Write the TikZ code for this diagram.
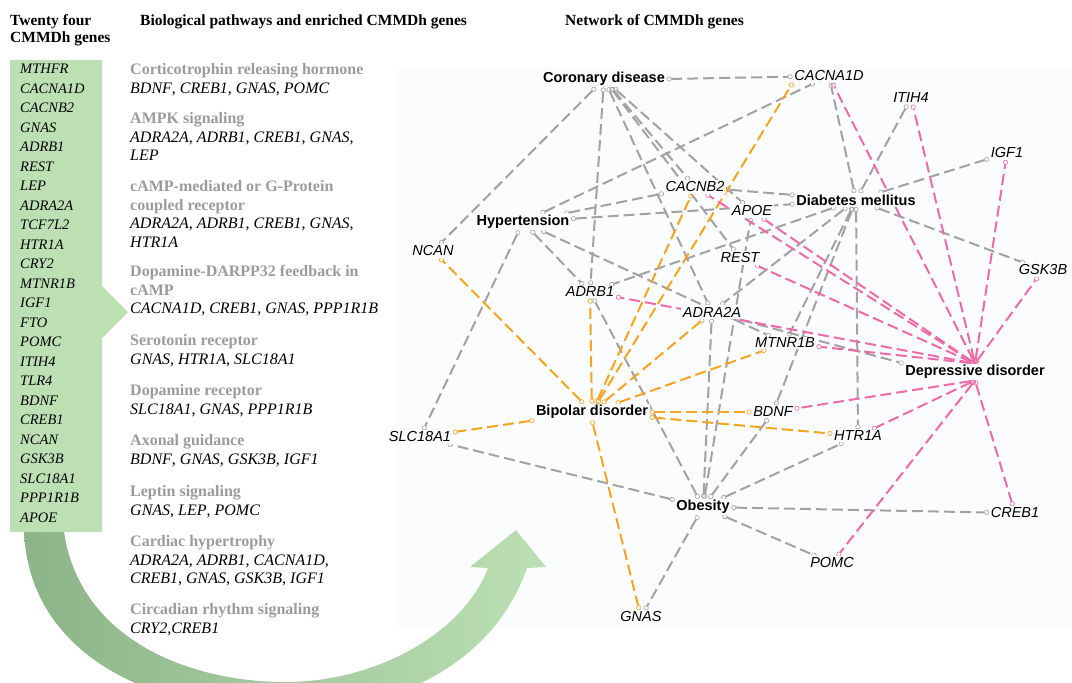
\documentclass[tikz,border=0pt]{standalone}
\usepackage{fontspec}
\setmainfont{Liberation Serif}
\newfontfamily\netfont{Liberation Sans}
\usetikzlibrary{arrows.meta}
\definecolor{boxgreen}{HTML}{BCDFB4}
\definecolor{darkgreen}{HTML}{8DB389}
\definecolor{netbg}{HTML}{FBFCFE}
\definecolor{pwgrey}{HTML}{9B9B9B}
\definecolor{lgrey}{HTML}{A2A2A2}
\definecolor{lorange}{HTML}{F6A41F}
\definecolor{lpink}{HTML}{EE6AA8}
\pgfdeclarelayer{netback}
\pgfdeclarelayer{netlines}
\pgfsetlayers{netback,netlines,main}
\newcommand{\gn}[1]{\textit{#1}}
\newcommand{\pwh}[1]{{\color{pwgrey}\bfseries #1}}
\tikzset{
  >={Circle[open,length=5pt,width=5pt,line width=0.6pt]},
  lnk/.style={line width=2pt, dash pattern=on 11pt off 5pt, <->},
  gl/.style={lnk, lgrey},
  ol/.style={lnk, lorange},
  pl/.style={lnk, lpink},
  dis/.style={font=\netfont\fontsize{14.5}{16}\selectfont\bfseries, fill=netbg, inner sep=1.5pt},
  gen/.style={font=\netfont\fontsize{14.5}{16}\selectfont\itshape, fill=netbg, inner sep=1.5pt},
  pw/.style={anchor=north west, inner sep=0pt, align=left, font=\fontsize{16}{18.5}\selectfont},
  hd/.style={anchor=north west, inner sep=0pt, align=left, font=\fontsize{15.5}{17.5}\selectfont\bfseries},
}

\begin{document}
\begin{tikzpicture}[x=1pt,y=-1pt]
		%%%%% START %%%%%
		\useasboundingbox (0,0) rectangle (1072,683);
		
		\begin{pgfonlayer}{netback}
		\fill[netbg] (396,68) rectangle (1072,627);
		\end{pgfonlayer}
		
		% curved arrow from the gene box to the network
		\begin{scope}
		\clip (0,0) rectangle (1072,683);
		\shade[left color=darkgreen, right color=boxgreen] (24,532) .. controls (30,660) and (160,712) .. (285,712) .. controls (400,712) and (495,660) .. (527,568) -- (546,567) -- (516,530) -- (470,567) -- (488,568) .. controls (465,630) and (380,682) .. (285,682) .. controls (190,682) and (80,640) .. (64,532) -- cycle;
		\end{scope}
		
		\fill[boxgreen] (10,60) -- (102,60) -- (102,286) -- (128,312) -- (102,338) -- (102,532) -- (10,532) -- cycle;
		
		\node[hd] (hgenes) at (10,14) {Twenty four\\CMMDh genes};
		\node[hd, anchor=base west] (hpath) at (140,25) {Biological pathways and enriched CMMDh genes};
		\node[hd, anchor=base west] (hnet) at (565,25) {Network of CMMDh genes};
		
		\node[anchor=north west, inner sep=0pt, align=left, font=\fontsize{14.5}{19.5}\selectfont\itshape] (genelist) at (20,64) {MTHFR\\CACNA1D\\CACNB2\\GNAS\\ADRB1\\REST\\LEP\\ADRA2A\\TCF7L2\\HTR1A\\CRY2\\MTNR1B\\IGF1\\FTO\\POMC\\ITIH4\\TLR4\\BDNF\\CREB1\\NCAN\\GSK3B\\SLC18A1\\PPP1R1B\\APOE};
		
		% pathways
		\node[pw] (pw1) at (130,63.5) {\pwh{Corticotrophin releasing hormone}\\\gn{BDNF}, \gn{CREB1}, \gn{GNAS}, \gn{POMC}};
		\node[pw] (pw2) at (130,112.5) {\pwh{AMPK signaling}\\\gn{ADRA2A}, \gn{ADRB1}, \gn{CREB1}, \gn{GNAS},\\\gn{LEP}};
		\node[pw] (pw3) at (130,180.5) {\pwh{cAMP-mediated or G-Protein}\\\pwh{coupled receptor}\\\gn{ADRA2A}, \gn{ADRB1}, \gn{CREB1}, \gn{GNAS},\\\gn{HTR1A}};
		\node[pw] (pw4) at (130,265.5) {\pwh{Dopamine-DARPP32 feedback in}\\\pwh{cAMP}\\\gn{CACNA1D}, \gn{CREB1}, \gn{GNAS}, \gn{PPP1R1B}};
		\node[pw] (pw5) at (130,334.5) {\pwh{Serotonin receptor}\\\gn{GNAS}, \gn{HTR1A}, \gn{SLC18A1}};
		\node[pw] (pw6) at (130,384.5) {\pwh{Dopamine receptor}\\\gn{SLC18A1}, \gn{GNAS}, \gn{PPP1R1B}};
		\node[pw] (pw7) at (130,434.5) {\pwh{Axonal guidance}\\\gn{BDNF}, \gn{GNAS}, \gn{GSK3B}, \gn{IGF1}};
		\node[pw] (pw8) at (130,485.5) {\pwh{Leptin signaling}\\\gn{GNAS}, \gn{LEP}, \gn{POMC}};
		\node[pw] (pw9) at (130,535.5) {\pwh{Cardiac hypertrophy}\\\gn{ADRA2A}, \gn{ADRB1}, \gn{CACNA1D},\\\gn{CREB1}, \gn{GNAS}, \gn{GSK3B}, \gn{IGF1}};
		\node[pw] (pw10) at (130,603.5) {\pwh{Circadian rhythm signaling}\\\gn{CRY2},\gn{CREB1}};
		
		% network: diseases
		\node[dis] (cor) at (604,79) {Coronary disease};
		\node[dis] (diab) at (856,200) {Diabetes mellitus};
		\node[dis] (hyp) at (523,222) {Hypertension};
		\node[dis] (dep) at (975,372) {Depressive disorder};
		\node[dis] (bip) at (592,412) {Bipolar disorder};
		\node[dis] (obes) at (703,507) {Obesity};
		
		% network: genes
		\node[gen] (cacna1d) at (829,76) {CACNA1D};
		\node[gen] (itih4) at (911,98) {ITIH4};
		\node[gen] (igf1) at (1007,153) {IGF1};
		\node[gen] (cacnb2) at (695,187) {CACNB2};
		\node[gen] (apoe) at (752,211) {APOE};
		\node[gen] (ncan) at (433,251) {NCAN};
		\node[gen] (rest) at (740,258) {REST};
		\node[gen] (gsk3b) at (1043,270) {GSK3B};
		\node[gen] (adrb1) at (590,292) {ADRB1};
		\node[gen] (adra2a) at (712,312) {ADRA2A};
		\node[gen] (mtnr1b) at (785,343) {MTNR1B};
		\node[gen] (bdnf) at (773,412) {BDNF};
		\node[gen] (slc18a1) at (420,437) {SLC18A1};
		\node[gen] (htr1a) at (858,436) {HTR1A};
		\node[gen] (creb1) at (1015,513) {CREB1};
		\node[gen] (pomc) at (832,563) {POMC};
		\node[gen] (gnas) at (641,617) {GNAS};
		
		\begin{pgfonlayer}{netlines}
		% grey links
		\draw[gl] (cor.east) -- (cacna1d);
		\draw[gl] (cor) -- (ncan);
		\draw[gl] (cor) -- (adrb1);
		\draw[gl] (cor) -- (cacnb2);
		\draw[gl] (cor) -- (apoe);
		\draw[gl] (cor) -- (rest);
		\draw[gl] (cor) -- (adra2a);
		\draw[gl] (hyp) -- (cacna1d);
		\draw[gl] (hyp) -- (cacnb2);
		\draw[gl] (hyp) -- (diab);
		\draw[gl] (hyp) -- (slc18a1);
		\draw[gl] (hyp) -- (adrb1);
		\draw[gl] (hyp) -- (mtnr1b);
		\draw[gl] (diab) -- (cacna1d);
		\draw[gl] (diab) -- (itih4);
		\draw[gl] (diab) -- (igf1);
		\draw[gl] (diab) -- (gsk3b);
		\draw[gl] (diab) -- (cacnb2);
		\draw[gl] (diab) -- (adrb1);
		\draw[gl] (diab) -- (adra2a);
		\draw[gl] (diab) -- (mtnr1b);
		\draw[gl] (diab) -- (bdnf);
		\draw[gl] (diab) -- (htr1a);
		\draw[gl] (obes) -- (slc18a1);
		\draw[gl] (obes) -- (adrb1);
		\draw[gl] (obes) -- (apoe);
		\draw[gl] (obes) -- (adra2a);
		\draw[gl] (obes) -- (bdnf);
		\draw[gl] (obes) -- (htr1a);
		\draw[gl] (obes) -- (creb1);
		\draw[gl] (obes) -- (pomc);
		\draw[gl] (obes) -- (gnas);
		\draw[gl] (adra2a) -- (dep.north west);
		% orange links
		\draw[ol] (bip) -- (ncan);
		\draw[ol] (bip) -- (adrb1);
		\draw[ol] (bip) -- (cacna1d.south west);
		\draw[ol] (bip) -- (cacnb2);
		\draw[ol] (bip) -- (adra2a);
		\draw[ol] (bip) -- (mtnr1b);
		\draw[ol] (bip) -- (bdnf);
		\draw[ol] (bip) -- (htr1a);
		\draw[ol] (bip) -- (slc18a1);
		\draw[ol] (bip.south) -- (gnas);
		% pink links
		\draw[pl] (dep.north) -- (cacna1d);
		\draw[pl] (dep.north) -- (itih4);
		\draw[pl] (dep.north) -- (igf1);
		\draw[pl] (dep.north) -- (gsk3b);
		\draw[pl] (dep.north) -- (cacnb2);
		\draw[pl] (dep.north) -- (apoe);
		\draw[pl] (dep.north) -- (rest);
		\draw[pl] (dep.north) -- (adrb1);
		\draw[pl] (dep.north) -- (mtnr1b);
		\draw[pl] (dep.south) -- (bdnf);
		\draw[pl] (dep.south) -- (htr1a);
		\draw[pl] (dep.south) -- (pomc);
		\draw[pl] (dep.south) -- (creb1);
		\end{pgfonlayer}
		
		%%%%% END %%%%%
\end{tikzpicture}
\end{document}
